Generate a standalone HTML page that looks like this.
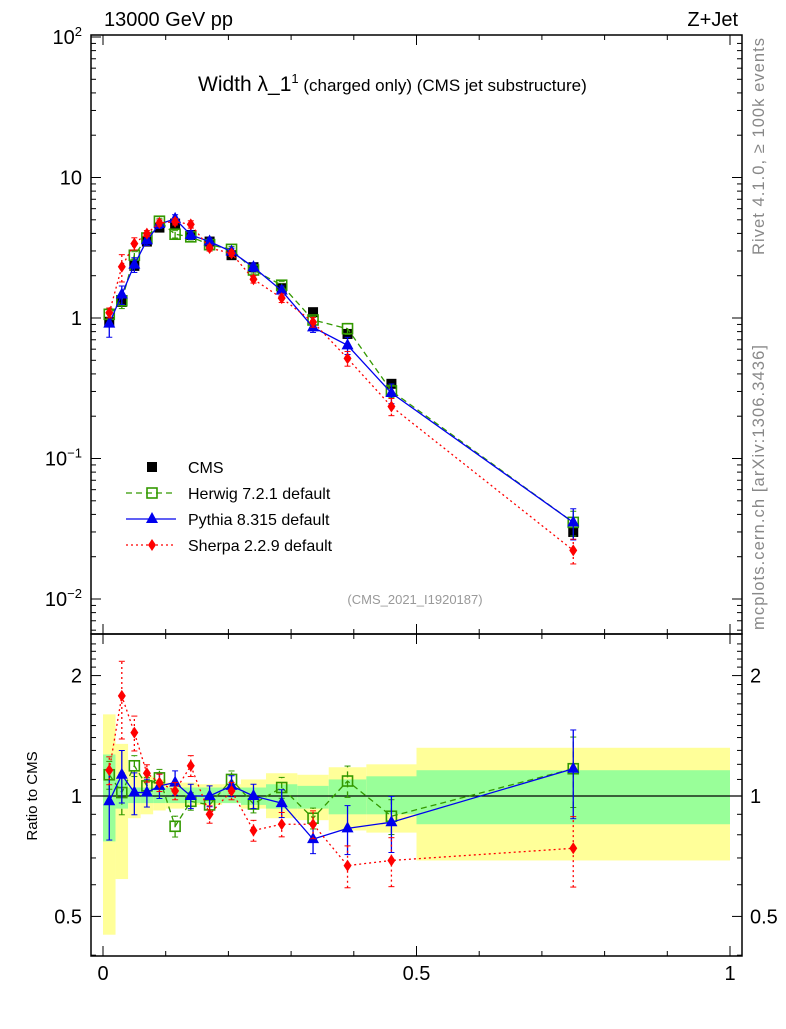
<!DOCTYPE html>
<html><head><meta charset="utf-8"><style>
body{margin:0;background:#fff;}
svg text{font-family:"Liberation Sans",sans-serif;}
</style></head><body>
<svg id="c" width="786" height="1024" xmlns="http://www.w3.org/2000/svg">
<text x="104" y="26" font-size="20">13000 GeV pp</text>
<text x="738" y="26" font-size="20" text-anchor="end">Z+Jet</text>
<text x="198" y="91" font-size="21">Width λ_1<tspan dy="-8" font-size="13">1</tspan><tspan dy="8" font-size="17"> (charged only) (CMS jet substructure)</tspan></text>
<text x="415" y="604" font-size="13" fill="#999" text-anchor="middle">(CMS_2021_I1920187)</text>
<text transform="translate(764,255) rotate(-90)" font-size="16.5" fill="#888" textLength="217">Rivet 4.1.0, ≥ 100k events</text>
<text transform="translate(764,630) rotate(-90)" font-size="16.5" fill="#888" textLength="285">mcplots.cern.ch [arXiv:1306.3436]</text>
<text transform="translate(37,796) rotate(-90)" font-size="15" text-anchor="middle">Ratio to CMS</text>
<g id="g"></g>
</svg>
<script>
const edges=[0,0.02,0.04,0.06,0.08,0.10,0.13,0.15,0.19,0.22,0.26,0.31,0.36,0.42,0.50,1.0];
const cmsVals=[0.94,1.3,2.35,3.5,4.4,4.7,3.9,3.5,2.8,2.3,1.63,1.1,0.77,0.34,0.03];
const bandYLo=[0.45,0.62,0.88,0.90,0.92,0.93,0.94,0.95,0.96,0.93,0.88,0.87,0.82,0.81,0.69];
const bandYHi=[1.6,1.35,1.16,1.12,1.10,1.08,1.08,1.07,1.07,1.10,1.14,1.13,1.18,1.20,1.32];
const bandGLo=[0.77,0.93,0.96,0.96,0.96,0.96,0.96,0.96,0.96,0.95,0.93,0.93,0.90,0.90,0.85];
const bandGHi=[1.27,1.10,1.05,1.05,1.05,1.05,1.05,1.05,1.05,1.05,1.07,1.06,1.10,1.12,1.16];
const herwigRatio=[1.13,1.02,1.19,1.06,1.11,0.84,0.97,0.95,1.10,0.955,1.05,0.88,1.09,0.89,1.17];
const herwigErr=[0.08,0.12,0.06,0.05,0.05,0.06,0.05,0.05,0.05,0.05,0.06,0.06,0.09,0.10,0.2];
const pythiaRatio=[0.97,1.13,1.02,1.02,1.06,1.08,1.0,1.0,1.06,1.0,0.96,0.78,0.83,0.86,1.17];
const pythiaErr=[0.2,0.15,0.12,0.08,0.07,0.07,0.07,0.06,0.06,0.07,0.08,0.08,0.14,0.16,0.25];
const sherpaRatio=[1.16,1.78,1.44,1.14,1.08,1.03,1.19,0.90,1.03,0.82,0.85,0.85,0.67,0.69,0.74];
const sherpaErr=[0.08,0.22,0.1,0.05,0.05,0.05,0.06,0.05,0.05,0.06,0.07,0.08,0.12,0.14,0.2];
const cmsErr=[0.1,0.08,0.05,0.04,0.03,0.03,0.03,0.03,0.03,0.04,0.05,0.05,0.07,0.07,0.1];
const xTicks=[0,0.5,1];
const xTickLabels=["0","0.5","1"];
const mainTicks=[2,1,0,-1,-2];
const ratioTicks=[2,1,0.5];
const ratioTickLabels=["2","1","0.5"];

const L=91,R=742,T=35,MB=634,RB=956;
const X=v=>103+v*627;
const Y=v=>318-Math.log10(v)*140.5;
const RY=v=>796-Math.log10(v)*400;
const g=document.getElementById('g');
const NS="http://www.w3.org/2000/svg";
function mk(t,a,p){const e=document.createElementNS(NS,t);for(const k in a)e.setAttribute(k,a[k]);(p||g).appendChild(e);return e;}
const centers=edges.slice(0,-1).map((e,i)=>(e+edges[i+1])/2);

for(let i=0;i<centers.length;i++){
 let r=mk('rect',{x:X(edges[i]),y:RY(bandYHi[i]),width:X(edges[i+1])-X(edges[i]),height:RY(bandYLo[i])-RY(bandYHi[i]),fill:'#ffff99'});
 
 let q=mk('rect',{x:X(edges[i]),y:RY(bandGHi[i]),width:X(edges[i+1])-X(edges[i]),height:RY(bandGLo[i])-RY(bandGHi[i]),fill:'#99ff99'});
 
}
let one=mk('line',{x1:L,x2:R,y1:RY(1),y2:RY(1),stroke:'#000','stroke-width':1.3});


let f1=mk('rect',{x:L,y:T,width:R-L,height:MB-T,fill:'none',stroke:'#000','stroke-width':1.5});

let f2=mk('rect',{x:L,y:MB,width:R-L,height:RB-MB,fill:'none',stroke:'#000','stroke-width':1.5});


for(let v=0;v<=1.0001;v+=0.1){
 const big=Math.abs(v*2-Math.round(v*2))<1e-6;const len=big?10:5;
 [[T,1],[MB,-1],[MB,1],[RB,-1]].forEach(([y0,d])=>mk('line',{x1:X(v),x2:X(v),y1:y0,y2:y0+d*len,stroke:'#000'}));
}
xTicks.forEach((v,i)=>{let t=mk('text',{x:X(v),y:980,'font-size':20,'text-anchor':'middle'});t.textContent=xTickLabels[i];
 });

for(let d=-3;d<2;d++)for(let m=1;m<10;m++){const v=m*Math.pow(10,d);const y=Y(v);if(y<T||y>MB)continue;
 const len=m==1?10:5;mk('line',{x1:L,x2:L+len,y1:y,y2:y,stroke:'#000'});mk('line',{x1:R,x2:R-len,y1:y,y2:y,stroke:'#000'});}
mk('line',{x1:L,x2:L+10,y1:Y(100),y2:Y(100),stroke:'#000'});
mainTicks.forEach(p=>{const y=Y(Math.pow(10,p));let t=mk('text',{x:82,y:y+7,'font-size':20,'text-anchor':'end'});
 if(p==0)t.textContent='1';else if(p==1)t.textContent='10';else{t.textContent='10';const s=mk('tspan',{dy:-8,'font-size':13},t);s.textContent=p==2?'2':'−'+(-p);}
 });

for(let v=0.4;v<=2.41;v+=0.1){const y=RY(v);if(y<MB||y>RB)continue;const big=[0.5,1,2].some(b=>Math.abs(b-v)<1e-6);const len=big?10:5;
 mk('line',{x1:L,x2:L+len,y1:y,y2:y,stroke:'#000'});mk('line',{x1:R,x2:R-len,y1:y,y2:y,stroke:'#000'});}
ratioTicks.forEach((v,i)=>{[[82,'end'],[750,'start']].forEach(([x,a])=>{let t=mk('text',{x:x,y:RY(v)+7,'font-size':20,'text-anchor':a});t.textContent=ratioTickLabels[i];
 });});

function marker(type,x,y,col,p){
 if(type=='sq'){return mk('rect',{x:x-5,y:y-5,width:10,height:10,fill:'#000'},p);}
 if(type=='osq'){return mk('rect',{x:x-5,y:y-5,width:10,height:10,fill:'none',stroke:col,'stroke-width':1.6},p);}
 if(type=='tri'){return mk('polygon',{points:`${x},${y-7} ${x-6},${y+4} ${x+6},${y+4}`,fill:col},p);}
 if(type=='dia'){return mk('polygon',{points:`${x},${y-6} ${x-4},${y} ${x},${y+6} ${x+4},${y}`,fill:col},p);}
}
const series=[
 {name:'herwig',r:herwigRatio,e:herwigErr,col:'#339900',dash:'6,4',m:'osq'},
 {name:'pythia',r:pythiaRatio,e:pythiaErr,col:'#0000ee',dash:'',m:'tri'},
 {name:'sherpa',r:sherpaRatio,e:sherpaErr,col:'#ff0000',dash:'2,3',m:'dia'}];

centers.forEach((c,i)=>{const v=cmsVals[i];
 mk('line',{x1:X(c),x2:X(c),y1:Y(v*(1-cmsErr[i])),y2:Y(v*(1+cmsErr[i])),stroke:'#000'});
 const m=marker('sq',X(c),Y(v));});

series.forEach(s=>{
 ['main','ratio'].forEach(panel=>{
  const yy=(i,f)=>panel=='main'?Y(cmsVals[i]*s.r[i]*f):RY(s.r[i]*f);
  const pts=centers.map((c,i)=>X(c)+','+yy(i,1)).join(' ');
  const pl=mk('polyline',{points:pts,fill:'none',stroke:s.col,'stroke-width':1.3,'stroke-dasharray':s.dash});
  
  centers.forEach((c,i)=>{const x=X(c);
   mk('line',{x1:x,x2:x,y1:yy(i,1-s.e[i]),y2:yy(i,1+s.e[i]),stroke:s.col,'stroke-width':1.3,'stroke-dasharray':s.dash});
   mk('line',{x1:x-3,x2:x+3,y1:yy(i,1-s.e[i]),y2:yy(i,1-s.e[i]),stroke:s.col});
   mk('line',{x1:x-3,x2:x+3,y1:yy(i,1+s.e[i]),y2:yy(i,1+s.e[i]),stroke:s.col});
   const m=marker(s.m,x,yy(i,1),s.col);});
 });
});

const leg=[['CMS','sq','#000',''],['Herwig 7.2.1 default','osq','#339900','6,4'],['Pythia 8.315 default','tri','#0000ee',''],['Sherpa 2.2.9 default','dia','#ff0000','2,3']];
leg.forEach((l,i)=>{const y=467+i*26;const lg=mk('g',{});
 
 if(i>0)mk('line',{x1:126,x2:176,y1:y,y2:y,stroke:l[2],'stroke-width':1.3,'stroke-dasharray':l[3]},lg);
 marker(l[1],152,y,l[2],lg);
 const t=mk('text',{x:188,y:y+6,'font-size':16},lg);t.textContent=l[0];});
</script>
</body></html>
